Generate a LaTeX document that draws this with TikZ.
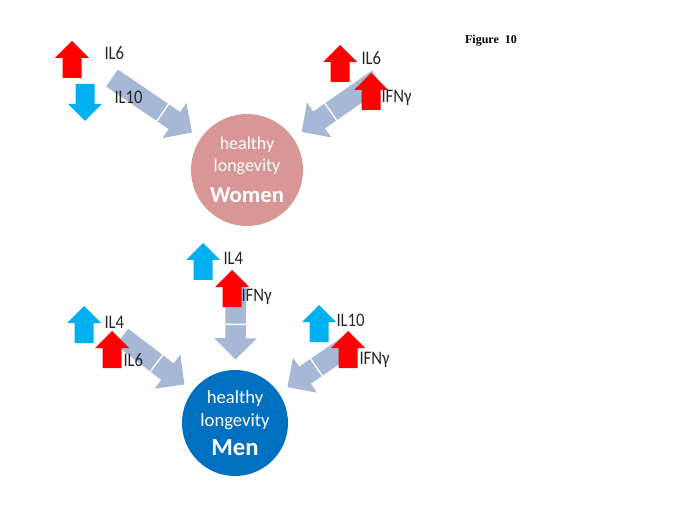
\documentclass[tikz,border=0pt]{standalone}
\usepackage{fontspec}
\setmainfont{Carlito}
\newfontfamily\figfont{Liberation Serif}
\usetikzlibrary{arrows.meta,calc}

\definecolor{upred}{RGB}{255,0,0}
\definecolor{upblue}{RGB}{0,176,240}
\definecolor{flowgray}{RGB}{166,184,214}
\definecolor{womenpink}{RGB}{216,150,150}
\definecolor{menblue}{RGB}{0,112,192}

\tikzset{every picture/.style={line width=0.75pt}}
\tikzset{
  uparr/.pic={\fill[pic actions] (-9.5,0) -- (-9.5,20) -- (-17,20) -- (0,37) -- (17,20) -- (9.5,20) -- (9.5,0) -- cycle;},
  flow/.style={draw=flowgray, line width=15.5pt, -{Triangle[width=31pt,length=16pt]}, shorten >=7.5pt},
  notch/.style={white, line width=1pt},
  lbl/.style={anchor=west, inner sep=0.75pt, text=black!85, font=\fontsize{12.5}{14}\selectfont, yscale=1.15},
  disc/.style={circle, minimum size=#1, inner sep=0pt, text=white, align=center},
}

\begin{document}
\begin{tikzpicture}[x=0.75pt,y=0.75pt,yscale=-1,xscale=1]
\useasboundingbox (0,0) rectangle (685,513);

% Circles
\node[disc=84pt, fill=womenpink, font=\fontsize{13.5}{16.5}\selectfont] (women) at (247,170) {healthy\\longevity\\[7pt]{\fontsize{17}{20}\selectfont\bfseries Women}};
\node[disc=79.5pt, fill=menblue, font=\fontsize{14}{17}\selectfont] (men) at (235,423) {healthy\\longevity\\[5pt]{\fontsize{18.5}{22}\selectfont\bfseries Men}};

% tails of the big arrows
\coordinate (wl) at (112,78);
\coordinate (wr) at (378,79);
\coordinate (mm) at (236,282);
\coordinate (ml) at (122,337);
\coordinate (mr) at (352,343);

%Big Arrows
\draw[flow] (wl) -- (women);
\draw[flow] (wr) -- (women);
\draw[flow] (mm) -- (men);
\draw[flow] (ml) -- (men);
\draw[flow] (mr) -- (men);

%Notches
\coordinate (wln) at ($(women)!76.5pt!(wl)$);
\draw[notch] ($(wln)!7.75pt!90:(women)$) -- ($(wln)!7.75pt!-90:(women)$);
\coordinate (wrn) at ($(women)!76.5pt!(wr)$);
\draw[notch] ($(wrn)!7.75pt!90:(women)$) -- ($(wrn)!7.75pt!-90:(women)$);
\coordinate (mmn) at ($(men)!74pt!(mm)$);
\draw[notch] ($(mmn)!7.75pt!90:(men)$) -- ($(mmn)!7.75pt!-90:(men)$);
\coordinate (mln) at ($(men)!74pt!(ml)$);
\draw[notch] ($(mln)!7.75pt!90:(men)$) -- ($(mln)!7.75pt!-90:(men)$);
\coordinate (mrn) at ($(men)!74pt!(mr)$);
\draw[notch] ($(mrn)!7.75pt!90:(men)$) -- ($(mrn)!7.75pt!-90:(men)$);

%Shape: Up / Down Arrows
\pic[fill=upred] at (72,78) {uparr};
\pic[fill=upblue, rotate=180] at (85,84) {uparr};
\pic[fill=upred] at (340,82) {uparr};
\pic[fill=upred] at (371,110) {uparr};
\pic[fill=upblue] at (203,280) {uparr};
\pic[fill=upred] at (232,307) {uparr};
\pic[fill=upblue] at (84,343) {uparr};
\pic[fill=upred] at (112,368) {uparr};
\pic[fill=upblue] at (319,342) {uparr};
\pic[fill=upred] at (348,368) {uparr};

% Text Node
\node[lbl] (wlil6) at (103,53) {IL6};
\node[lbl] (wlil10) at (113,97) {IL10};
\node[lbl] (wril6) at (360,58) {IL6};
\node[lbl] (wrifn) at (380,98) {IFNγ};
\node[lbl] (mmil4) at (222,258) {IL4};
\node[lbl] (mmifn) at (240,297) {IFNγ};
\node[lbl] (mlil4) at (103,322) {IL4};
\node[lbl] (mlil6) at (122,360) {IL6};
\node[lbl] (mril10) at (335,320) {IL10};
\node[lbl] (mrifn) at (358,360) {IFNγ};
% Text Node
\node[font=\figfont\fontsize{9}{11}\selectfont\bfseries] (fig) at (491,41) {Figure~~10};

\end{tikzpicture}
\end{document}
